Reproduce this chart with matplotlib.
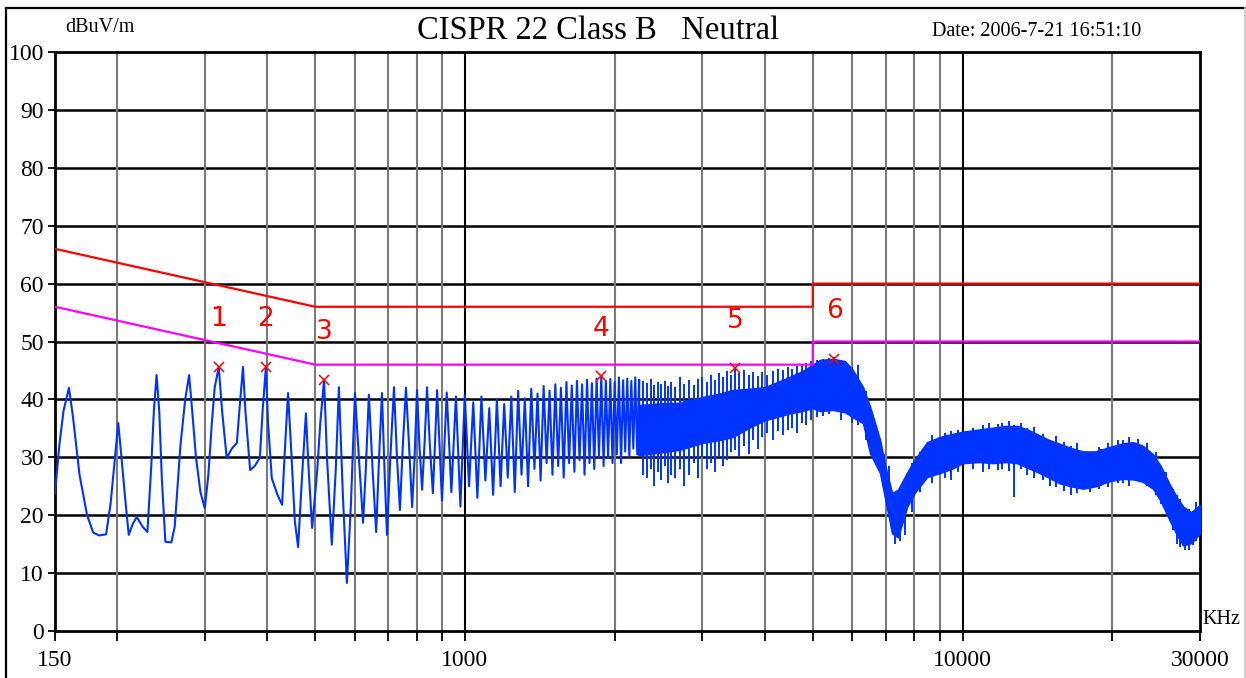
import matplotlib
matplotlib.use("Agg")
import matplotlib.pyplot as plt
from matplotlib.lines import Line2D
from matplotlib.ticker import NullLocator

W, H = 1246, 678

# low band trace, kHz / dBuV
lo_f = [150, 153, 156, 160, 163, 168, 174, 179, 184, 190, 194, 198, 201, 204, 208, 211,
        215, 219, 225, 230, 234, 237, 240, 243, 246, 250, 257, 261, 268, 274, 279, 283,
        288, 294, 300, 305, 310, 314, 320, 325, 332, 340, 348, 352, 358, 362, 370, 378,
        387, 392, 398, 402, 409, 420, 429, 435, 441, 447, 455, 462, 470, 479, 485, 493,
        505, 512, 521, 528, 540, 550, 558, 568, 579, 590, 601, 612, 624, 632, 641, 652,
        663, 672, 681, 689, 697, 708, 720, 730, 740, 750, 761, 772, 783, 792, 801, 810,
        820, 830, 839, 850, 862, 870, 879]
lo_db = [23.8, 32, 38, 42.0, 37, 27, 20, 17, 16.5, 16.7, 22, 30, 35.9, 30, 22, 16.6,
         18.5, 19.7, 18, 17.1, 28, 38, 44.2, 38, 26, 15.4, 15.3, 18, 32, 40, 44.2, 38,
         30, 24, 21.2, 27, 36, 42, 45.6, 38, 29.9, 31.5, 32.5, 38, 45.6, 38, 27.8, 28.5,
         29.9, 38, 45.6, 36, 26.4, 23.5, 21.8, 32, 41.1, 32, 19, 14.5, 26, 37.6, 28, 17.8,
         28, 36, 43.4, 30, 14.9, 28, 42.1, 24, 8.3, 22, 41.1, 30, 18.7, 28, 40.8, 28,
         17.1, 30, 41.1, 28, 16.6, 30, 42.1, 30, 20.9, 32, 42.0, 32, 21.4, 30, 41.6, 32,
         24.4, 33, 42.1, 32, 23.8, 32, 41.6]

# harmonic comb 0.9 - 2.2 MHz: troughs and peaks
trough_f = [899, 939, 979, 1019, 1059, 1099, 1139, 1179, 1219, 1259, 1299, 1339, 1379,
            1419, 1459, 1499, 1539, 1579, 1619, 1659, 1699, 1739, 1779, 1819, 1859,
            1899, 1939, 1979, 2019, 2059, 2099, 2139, 2179, 2219]
trough_db = [22.5, 24, 21.5, 25, 23, 26, 23.5, 25, 26.5, 24, 27, 25, 28, 26, 29, 27,
             28.5, 26.5, 29, 27.5, 29.5, 27, 29, 28, 30, 28.5, 30, 29, 30.5, 29, 31, 30,
             31.5, 30.5]
peak_f = [919, 959, 999, 1039, 1079, 1119, 1159, 1199, 1239, 1279, 1319, 1359, 1399,
          1439, 1479, 1519, 1559, 1599, 1639, 1679, 1719, 1759, 1799, 1839, 1879, 1919,
          1959, 1999, 2039, 2079, 2119, 2159, 2199, 2239]
peak_db = [41.2, 40.5, 40.8, 39.5, 40.5, 38.5, 40, 39.2, 40.5, 41.5, 40.2, 41.8, 41,
           42.3, 41.5, 42.6, 42, 43, 42.4, 43.2, 42.6, 43.4, 42.8, 43.6, 44.0, 43.2,
           43.5, 43.0, 43.8, 43.3, 43.6, 43.2, 43.8, 43.4]

# dense part of the spectrum: body of the trace
band_f = [2240, 2450, 2700, 3000, 3250, 3450, 3700, 4000, 4250, 4500, 4750, 5000, 5169,
          5491, 5800, 6000, 6309, 6518, 6825, 7000, 7215, 7418, 7730, 8000, 8483, 9000,
          9500, 10000, 10800, 11510, 12200, 12870, 13500, 14110, 14900, 15690, 16500,
          17460, 18500, 19300, 20000, 21000, 22010, 23000, 24130, 25000, 26110, 27000,
          27740, 28800, 30000]
band_hi = [39.0, 39.3, 39.4, 40.4, 41.0, 41.6, 41.8, 42.1, 43.0, 43.9, 44.8, 46.0, 46.8,
           47.0, 46.6, 45.2, 42.1, 38.7, 33.0, 28.3, 23.8, 24.4, 27.3, 29.5, 32.6, 33.5,
           34.0, 34.4, 34.8, 35.1, 35.4, 35.4, 34.8, 34.0, 33.0, 32.3, 31.6, 31.0, 31.0,
           31.5, 31.9, 32.4, 32.6, 32.0, 30.5, 28.5, 25.2, 23.0, 21.5, 20.5, 21.8]
band_lo = [30.4, 30.8, 31.3, 32.5, 33.0, 33.5, 35.0, 36.4, 37.0, 37.6, 38.0, 38.5, 38.0,
           38.2, 37.8, 37.0, 35.9, 30.7, 27.3, 22.6, 16.9, 16.2, 21.4, 23.8, 26.6, 27.3,
           28.0, 29.0, 29.2, 29.0, 29.2, 29.0, 28.2, 27.5, 26.5, 25.5, 25.0, 24.6, 25.0,
           25.6, 26.0, 26.3, 26.2, 25.8, 24.6, 22.5, 19.0, 16.5, 14.8, 15.2, 16.9]

# single spikes sticking out of the body
spike_f = [2280, 2320, 2360, 2400, 2440, 2480, 2520, 2560, 2600, 2640, 2700, 2760, 2820,
           2880, 2940, 3000, 3060, 3120, 3180, 3240, 3300, 3360, 3420, 3489, 3560, 3640,
           3720, 3800, 3880, 3960, 4050, 4150, 4250, 4350, 4450, 4550, 4650, 4750, 4850,
           4950, 5100, 5250, 5400, 5520, 5700, 5850, 6000, 6150, 6400, 6650, 6950, 7100,
           7300, 7500, 7650, 7900, 8200, 8700, 9200, 9500, 9800, 10500, 11000, 11300,
           11800, 12000, 12400, 12690, 13100, 13500, 13900, 14500, 15000, 15400, 16000,
           16500, 17000, 18000, 18800, 19000, 19600, 20500, 21000, 21600, 22500, 23500,
           24500, 25000, 25600, 26500, 27000, 27400, 28000, 28500, 29000, 29500]
spike_top = [43.2, 42.8, 43.5, 42.5, 43.0, 42.6, 43.2, 42.4, 43.0, 42.2, 43.9, 42.6, 43.3,
             42.5, 43.6, 43.9, 43.0, 44.2, 43.4, 44.6, 43.8, 44.9, 44.2, 45.4, 44.6, 45.0,
             44.2, 44.8, 44.0, 44.7, 44.3, 44.9, 45.2, 45.0, 45.6, 45.3, 45.8, 46.0, 46.3,
             46.6, 46.8, 47.0, 47.2, 47.3, 46.8, 46.3, 45.6, 45.9, 41.5, 36.5, 30.5, 28.5,
             24.0, 24.5, 26.0, 29.0, 31.0, 33.8, 34.2, 34.5, 34.8, 35.0, 35.5, 36.0, 35.8,
             36.0, 36.2, 35.5, 35.9, 35.0, 35.2, 34.0, 33.0, 33.6, 32.6, 32.0, 32.4, 31.0,
             31.8, 31.5, 32.4, 33.0, 33.0, 33.5, 33.2, 32.5, 31.0, 28.0, 27.5, 24.5, 23.5,
             22.8, 21.0, 21.0, 20.8, 22.3]
spike_bot = [27, 26.5, 28, 25, 27.5, 26, 28.5, 25.5, 27, 26.5, 28, 25, 27, 29, 26.5, 30.1,
             28, 29, 27.5, 30, 28.5, 29.5, 31, 31.3, 30, 32, 30.5, 33, 31.5, 33.5, 34.2, 33,
             34.5, 33.8, 34.7, 35, 34.2, 36, 35.5, 36.5, 37, 37.2, 37.5, 38.2, 36.5, 37.5,
             36, 35.5, 33.0, 29.5, 25.5, 21.5, 15.0, 15.5, 16.5, 20.5, 24.0, 25.5, 26.5,
             26.0, 27.5, 28.0, 27.5, 28.0, 27.8, 28.0, 27.6, 23.1, 28.0, 27.0, 26.5, 26.0,
             25.0, 24.8, 24.2, 23.5, 23.8, 24.0, 24.6, 25.0, 24.8, 25.5, 25.5, 25.0, 26.0,
             25.0, 23.5, 22.0, 20.5, 17.5, 15.0, 14.5, 14.0, 14.0, 14.8, 15.5]

# CISPR 22 class B conducted limits
qp_f = [150, 500, 5000, 5000, 30000]
qp_db = [66, 56, 56, 60, 60]
av_f = [150, 500, 5000, 5000, 30000]
av_db = [56, 46, 46, 50, 50]

# peak markers
mk_id = ["1", "2", "3", "4", "5", "6"]
mk_f = [320, 398, 521, 1879, 3489, 5517]
mk_db = [45.6, 45.6, 43.4, 44.0, 45.4, 47.0]

xgrid = [200, 300, 400, 500, 600, 700, 800, 900, 1000, 2000, 3000, 4000, 5000, 6000,
         7000, 8000, 9000, 10000, 20000]
xticks = [150] + xgrid + [30000]
xlabels = {150: "150", 1000: "1000", 10000: "10000", 30000: "30000"}
yticks = [0, 10, 20, 30, 40, 50, 60, 70, 80, 90, 100]

SERIF = ["Liberation Serif", "DejaVu Serif"]
NARROW = ["Liberation Sans Narrow", "DejaVu Sans"]
BLUE = "#0033ff"

fig = plt.figure(figsize=(W / 100, H / 100), dpi=100)
ax = fig.add_axes([55 / W, 1 - 631 / H, 1145 / W, 579 / H])
ax.set_xscale("log")
ax.set_xlim(150, 30000)
ax.set_ylim(0, 100)

for y in yticks[1:-1]:
    ax.axhline(y, color="black", lw=1.8, zorder=1)
for f in xgrid:
    c = "black" if f in (1000, 10000) else "#7a7a7a"
    ax.axvline(f, color=c, lw=1.5, zorder=1)

# trace
tr_f = list(lo_f)
tr_db = list(lo_db)
for tf, td, pf, pd in zip(trough_f, trough_db, peak_f, peak_db):
    tr_f += [tf, pf]
    tr_db += [td, pd]
tr_f.append(band_f[0])
tr_db.append(band_lo[0])
ax.plot(tr_f, tr_db, color=BLUE, lw=1.5, zorder=3)
ax.fill_between(band_f, band_lo, band_hi, color=BLUE, lw=1.2, zorder=3)
ax.vlines(spike_f, spike_bot, spike_top, color=BLUE, lw=1.4, zorder=3)

ax.plot(qp_f, qp_db, color="#ff0000", lw=1.6, zorder=4)
ax.plot(av_f, av_db, color="#ff00ff", lw=1.6, zorder=4)

ax.plot(mk_f, mk_db, "x", color="#ff0000", ms=7, mew=1.1, zorder=5)
for s, f, d in zip(mk_id, mk_f, mk_db):
    ax.text(f, d + 8.2, s, color="#ff0000", ha="center", va="center",
            fontsize=19, family=NARROW, zorder=5)

for side in ("left", "right", "top", "bottom"):
    ax.spines[side].set_linewidth(2)
    ax.spines[side].set_color("black")

ax.set_yticks(yticks)
ax.set_yticklabels([str(v) for v in yticks], family=SERIF, fontsize=17)
ax.set_xticks(xticks)
ax.set_xticklabels([xlabels.get(f, "") for f in xticks], family=SERIF, fontsize=17)
ax.xaxis.set_minor_locator(NullLocator())
ax.tick_params(axis="y", length=5, width=1.3, pad=3)
ax.tick_params(axis="x", length=7, width=1.3, pad=7)

fig.text(65 / W, 1 - 27 / H, "dBuV/m", family=SERIF, fontsize=14.5, ha="left", va="center")
fig.text(598 / W, 1 - 31 / H, "CISPR 22 Class B   Neutral", family=SERIF, fontsize=23.5,
         ha="center", va="center")
fig.text(1037 / W, 1 - 31 / H, "Date: 2006-7-21 16:51:10", family=SERIF, fontsize=14.5,
         ha="center", va="center")
fig.text(1202 / W, 1 - 620 / H, "KHz", family=SERIF, fontsize=14.5, ha="left", va="center")

# outer frame
fig.add_artist(Line2D([6 / W, 6 / W], [0, 1 - 8 / H], color="black", lw=1.6))
fig.add_artist(Line2D([6 / W, 1], [1 - 8 / H, 1 - 8 / H], color="black", lw=1.6))
fig.add_artist(Line2D([1245 / W, 1245 / W], [0, 1 - 8 / H], color="#c8c8c8", lw=1.2))

fig.savefig("out.png", dpi=100)
